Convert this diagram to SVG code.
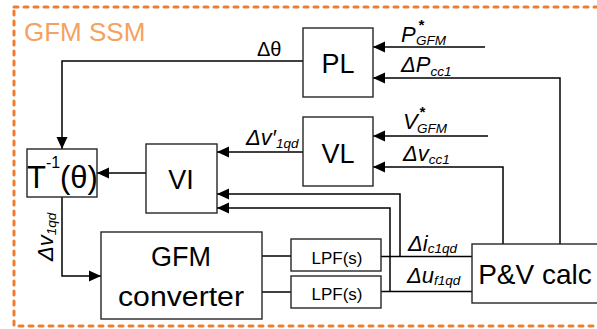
<svg xmlns="http://www.w3.org/2000/svg" width="597" height="329" viewBox="0 0 597 329">
<defs>
<style>
.box{fill:#fff;stroke:#262626;stroke-width:1.4}
.ln{fill:none;stroke:#000;stroke-width:1.5}
.bt{font-family:"Liberation Sans",Arial,sans-serif;fill:#000;text-anchor:middle}
.lb{font-family:"Liberation Sans",Arial,sans-serif;fill:#000;font-style:italic}
</style>
<marker id="ah" markerUnits="userSpaceOnUse" markerWidth="12" markerHeight="12" refX="12" refY="6" orient="auto">
<path d="M0,0.5 L12,6 L0,11.5 z" fill="#000"/>
</marker>
</defs>
<rect width="597" height="329" fill="#fff"/>
<rect x="14" y="7" width="610" height="319" fill="none" stroke="#ED7D31" stroke-width="3" stroke-dasharray="4 6" stroke-linecap="round"/>
<text x="24" y="41" font-family="'Liberation Sans',Arial,sans-serif" font-size="26" fill="#F4A261">GFM SSM</text>

<g id="connectors">
<path class="ln" d="M303,61 H62 V149" marker-end="url(#ah)"/>
<path class="ln" d="M485,47 H373" marker-end="url(#ah)"/>
<path class="ln" d="M560,244 V78 H373" marker-end="url(#ah)"/>
<path class="ln" d="M488,136 H373" marker-end="url(#ah)"/>
<path class="ln" d="M503,244 V167 H373" marker-end="url(#ah)"/>
<path class="ln" d="M303,152 H217" marker-end="url(#ah)"/>
<path class="ln" d="M146,173 H97" marker-end="url(#ah)"/>
<path class="ln" d="M62,197 V276 H101" marker-end="url(#ah)"/>
<path class="ln" d="M262,256 H291"/>
<path class="ln" d="M262,292 H291"/>
<path class="ln" d="M381,256.5 H472"/>
<path class="ln" d="M381,291.5 H472"/>
<path class="ln" d="M400,256.5 V194 H217" marker-end="url(#ah)"/>
<path class="ln" d="M390,291.5 V208 H217" marker-end="url(#ah)"/>
</g>

<g id="PL">
<rect class="box" x="303" y="28" width="70" height="69"/>
<text class="bt" x="338" y="73" font-size="27">PL</text>
</g>
<g id="VL">
<rect class="box" x="303" y="117" width="70" height="69"/>
<text class="bt" x="338" y="163" font-size="27">VL</text>
</g>
<g id="VI">
<rect class="box" x="146" y="144" width="71" height="69"/>
<text class="bt" x="181" y="189" font-size="27">VI</text>
</g>
<g id="Tinv">
<rect class="box" x="27" y="149" width="70" height="48"/>
<text x="27" y="188" font-family="'Liberation Sans',Arial,sans-serif" font-size="31" fill="#000">T<tspan font-size="16" dy="-20">-1</tspan><tspan dy="20" x="60">(θ)</tspan></text>
</g>
<g id="GFMconv">
<rect class="box" x="101" y="232" width="161" height="87"/>
<text class="bt" x="181" y="266" font-size="27">GFM</text>
<text class="bt" x="181" y="306" font-size="27" textLength="126" lengthAdjust="spacingAndGlyphs">converter</text>
</g>
<g id="LPF1">
<rect class="box" x="291" y="239" width="90" height="32"/>
<text class="bt" x="337" y="264" font-size="17">LPF(s)</text>
</g>
<g id="LPF2">
<rect class="box" x="291" y="276" width="90" height="32"/>
<text class="bt" x="337" y="300" font-size="17">LPF(s)</text>
</g>
<g id="PVcalc">
<rect class="box" x="472" y="244" width="126" height="59"/>
<text class="bt" x="535" y="284" font-size="28">P&amp;V calc</text>
</g>

<g id="labels">
<text x="257" y="56" font-family="'Liberation Sans',Arial,sans-serif" font-size="20" fill="#000">Δθ</text>
<text class="lb" x="401" y="42" font-size="22">P</text>
<text class="lb" x="418" y="30" font-size="15" font-weight="bold">*</text>
<text class="lb" x="416" y="45" font-size="13.5">GFM</text>
<text class="lb" x="401" y="72" font-size="22">ΔP<tspan font-size="13.5" dy="4">cc1</tspan></text>
<text class="lb" x="403" y="129" font-size="22">V</text>
<text class="lb" x="419" y="117" font-size="15" font-weight="bold">*</text>
<text class="lb" x="417" y="133" font-size="13.5">GFM</text>
<text class="lb" x="403" y="161" font-size="22">Δv<tspan font-size="13.5" dy="3">cc1</tspan></text>
<text class="lb" x="246" y="145" font-size="22">Δv′<tspan font-size="13.5" dy="3">1qd</tspan></text>
<text class="lb" x="408" y="251" font-size="22">Δi<tspan font-size="13.5" dy="2">c1qd</tspan></text>
<text class="lb" x="407" y="283" font-size="22">Δu<tspan font-size="13.5" dy="2">f1qd</tspan></text>
<text class="lb" transform="translate(53,261) rotate(-90)" x="0" y="0" font-size="22">Δv<tspan font-size="13.5" dy="3">1qd</tspan></text>
</g>
</svg>
